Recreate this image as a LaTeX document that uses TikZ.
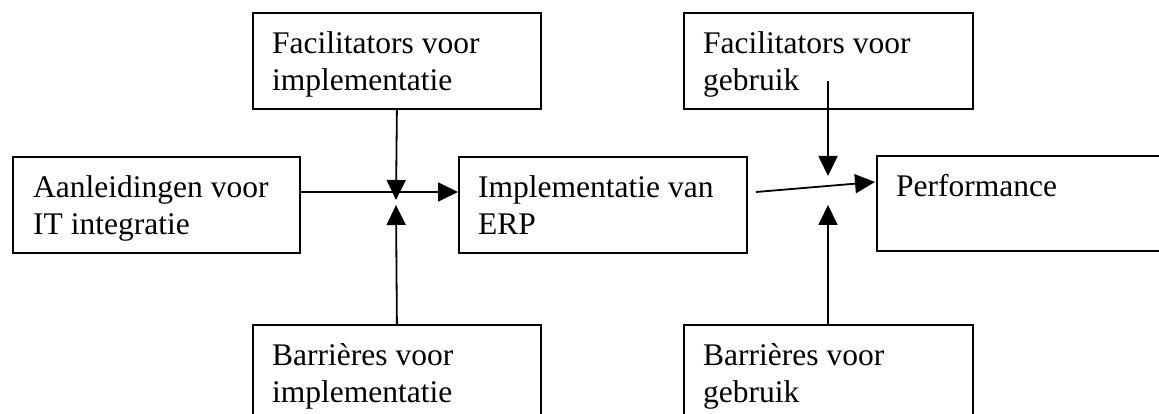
\documentclass[tikz,border=0pt]{standalone}
\usepackage{fontspec}
\setmainfont{Liberation Serif}
\usetikzlibrary{arrows.meta,calc}
\begin{document}
\begin{tikzpicture}[x=1pt,y=-1pt,
  box/.style={draw, line width=1.8pt, anchor=north west, inner sep=0pt,
              minimum width=288pt, minimum height=96pt},
  lbl/.style={anchor=north west, inner sep=0pt, align=left,
              font=\fontsize{31.5}{37}\selectfont},
  conn/.style={line width=1.8pt, -{Triangle[length=20pt,width=19pt]}}]
\useasboundingbox (0,0) rectangle (1159,414);
\clip (0,0) rectangle (1159,414);

% boxes
\node[box] (fi) at (252,12) {};
\node[box, minimum width=289pt] (fg) at (683,12) {};
\node[box, minimum width=287pt] (aan) at (12,156) {};
\node[box] (erp) at (458,156) {};
\node[box, minimum width=310pt, minimum height=95pt] (perf) at (876,155) {};
\node[box, minimum height=120pt] (bi) at (252,324) {};
\node[box, minimum width=289pt, minimum height=120pt] (bg) at (683,324) {};

% labels
\node[lbl] (fi-t)   at ($(fi.north west)+(20,19)$)   {Facilitators voor\\implementatie};
\node[lbl] (fg-t)   at ($(fg.north west)+(20,19)$)   {Facilitators voor\\gebruik};
\node[lbl] (aan-t)  at ($(aan.north west)+(21,19)$)  {Aanleidingen voor\\IT integratie};
\node[lbl] (erp-t)  at ($(erp.north west)+(20,19)$)  {Implementatie van\\ERP};
\node[lbl] (perf-t) at ($(perf.north west)+(20,19)$) {Performance};
\node[lbl] (bi-t)   at ($(bi.north west)+(20,19)$)   {Barrières voor\\implementatie};
\node[lbl] (bg-t)   at ($(bg.north west)+(20,19)$)   {Barrières voor\\gebruik};

% junction points
\coordinate (j1d) at (396,200);
\coordinate (j1u) at (396,205);
\coordinate (fgs) at (828,81);
\coordinate (j2d) at (828,176);
\coordinate (j2u) at (828,205);
\coordinate (erpo) at (756,192);
\coordinate (perfi) at (875,182);

% connectors
\draw[conn] (fi.south) -- (j1d);
\draw[conn] (bi.north) -- (j1u);
\draw[conn] ($(aan.north east)+(0,36)$) -- ($(erp.north west)+(0,36)$);
\draw[conn] (fgs) -- (j2d);
\draw[conn] (bg.north -| j2u) -- (j2u);
\draw[conn] (erpo) -- (perfi);
\end{tikzpicture}
\end{document}
